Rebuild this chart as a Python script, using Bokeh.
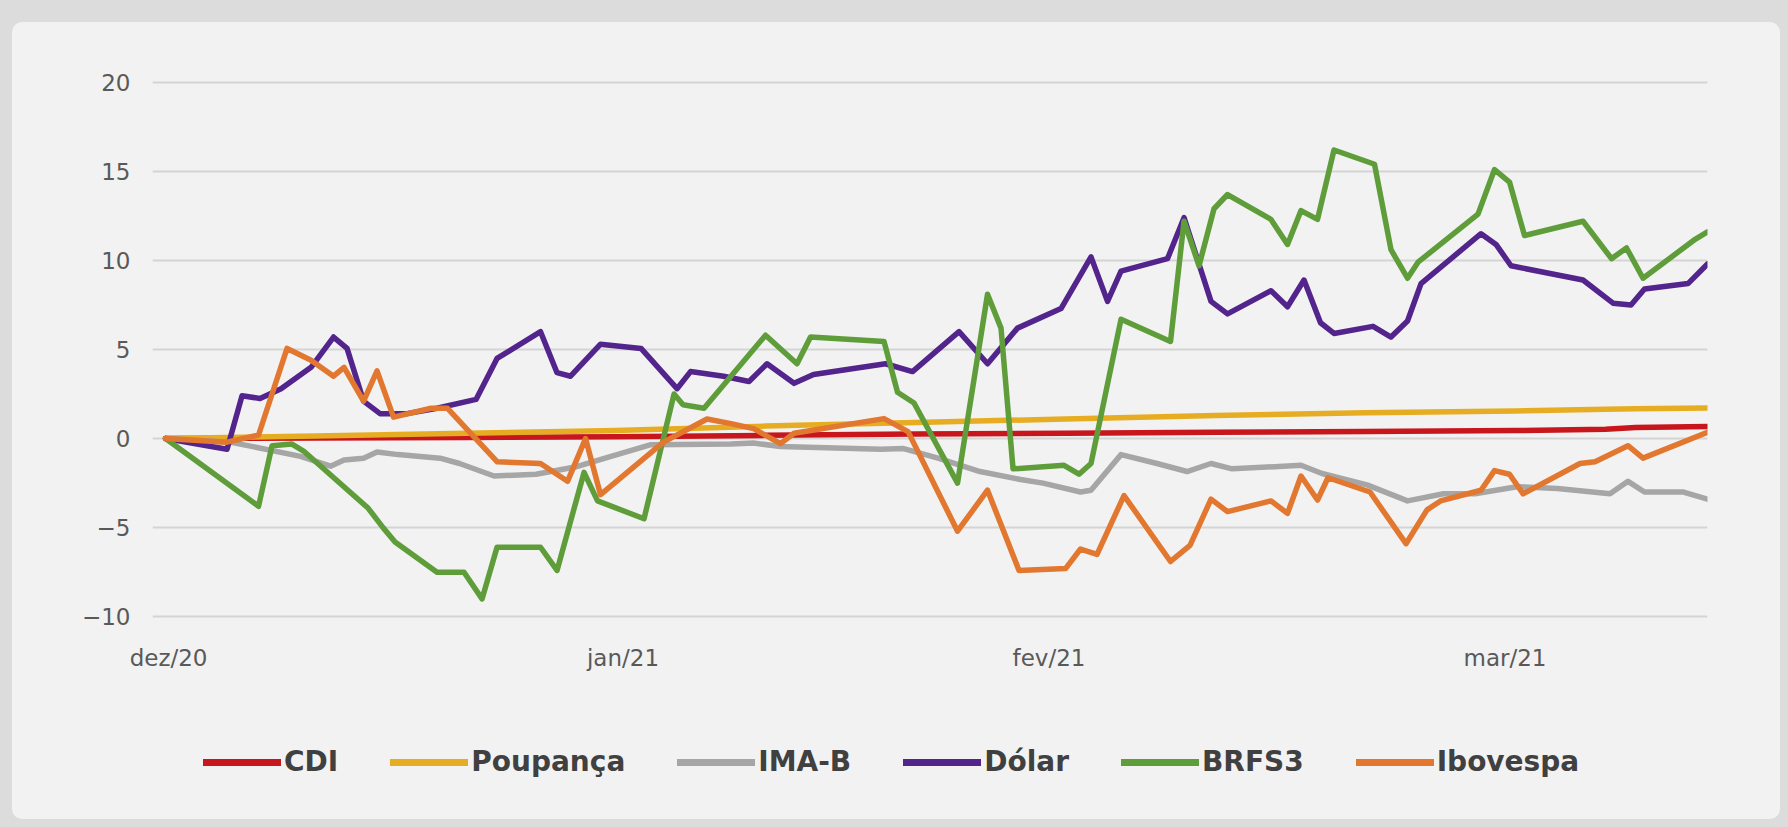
from bokeh.plotting import figure
from bokeh.layouts import column
from bokeh.models import Range1d, FixedTicker, Legend, LegendItem, GlobalInlineStyleSheet
from bokeh.embed import file_html
from bokeh.resources import INLINE

# ---------------- data (x = session index along the horizontal axis) ----------------
tick_pos = [0.2, 30.5, 58.9, 89.3]
tick_labels = ["dez/20", "jan/21", "fev/21", "mar/21"]

x_cdi = [0, 10, 20, 30, 40, 50, 60, 70, 80, 90, 96, 98, 102.8]
cdi = [0, 0.03, 0.06, 0.1, 0.18, 0.25, 0.3, 0.35, 0.4, 0.45, 0.52, 0.62, 0.68]

x_poup = [0, 10, 20, 30, 40, 50, 60, 70, 80, 90, 96, 98, 102.8]
poupanca = [0, 0.15, 0.3, 0.45, 0.7, 0.9, 1.1, 1.3, 1.45, 1.55, 1.65, 1.68, 1.72]

x_imab = [0, 4.3, 6.1, 9.0, 11.0, 11.9, 13.2, 14.1, 15.5, 18.3, 19.6, 21.9, 24.7, 27.3,
          29.7, 32.3, 37.7, 39.2, 41.0, 47.7, 49.2, 51.5, 54.3, 57.0, 58.5, 61.0, 61.7,
          63.7, 66.1, 68.1, 69.7, 71.1, 75.7, 77.1, 80.1, 82.8, 85.2, 87.3, 90.1, 92.8,
          96.3, 97.5, 98.6, 101.2, 102.8]
imab = [0, -0.2, -0.5, -1.0, -1.55, -1.2, -1.1, -0.75, -0.9, -1.1, -1.4, -2.1, -2.0, -1.6,
        -1.0, -0.35, -0.3, -0.25, -0.45, -0.6, -0.56, -1.1, -1.85, -2.3, -2.5, -3.0, -2.9,
        -0.9, -1.4, -1.85, -1.4, -1.7, -1.5, -1.96, -2.6, -3.5, -3.1, -3.1, -2.7, -2.8,
        -3.1, -2.4, -3.0, -3.0, -3.4]

x_dolar = [0, 4.1, 5.1, 6.3, 7.7, 9.7, 11.2, 12.1, 13.2, 14.3, 16.1, 18.1, 20.7, 22.1,
           25.0, 26.1, 27.0, 29.0, 31.7, 34.1, 35.0, 37.2, 38.9, 40.1, 41.9, 43.2, 48.0,
           49.8, 52.9, 54.8, 56.8, 59.7, 61.7, 62.8, 63.7, 66.8, 67.9, 69.7, 70.8, 73.7,
           74.8, 75.9, 77.0, 77.9, 80.5, 81.7, 82.8, 83.7, 87.7, 88.7, 89.7, 94.5, 96.5,
           97.7, 98.6, 101.5, 102.8]
dolar = [0, -0.6, 2.4, 2.25, 2.8, 4.0, 5.7, 5.06, 2.1, 1.4, 1.4, 1.7, 2.2, 4.5,
         6.0, 3.7, 3.5, 5.3, 5.06, 2.8, 3.76, 3.5, 3.2, 4.2, 3.1, 3.6, 4.2,
         3.76, 6.0, 4.2, 6.2, 7.3, 10.2, 7.7, 9.4, 10.1, 12.4, 7.7, 7.0, 8.3,
         7.4, 8.9, 6.5, 5.9, 6.3, 5.7, 6.6, 8.7, 11.5, 10.9, 9.7, 8.9, 7.6,
         7.5, 8.4, 8.7, 9.8]

x_brfs3 = [0, 6.2, 7.1, 8.4, 9.2, 13.5, 14.5, 15.3, 18.1, 19.9, 21.1, 22.1, 25.0, 26.1,
           27.9, 28.8, 31.9, 33.9, 34.5, 35.9, 40.0, 42.1, 43.0, 47.9, 48.8, 49.9, 52.8,
           54.8, 55.7, 56.5, 59.9, 60.9, 61.7, 63.7, 67.0, 67.9, 68.9, 69.9, 70.8, 73.7,
           74.8, 75.7, 76.8, 77.9, 80.6, 81.7, 82.8, 83.5, 87.5, 88.6, 89.6, 90.6, 94.5,
           96.4, 97.4, 98.5, 102.0, 102.8]
brfs3 = [0, -3.8, -0.4, -0.3, -0.7, -3.9, -5.0, -5.8, -7.5, -7.5, -9.0, -6.1, -6.1, -7.4,
         -1.9, -3.5, -4.5, 2.5, 1.9, 1.7, 5.8, 4.2, 5.7, 5.45, 2.6, 2.0, -2.5,
         8.1, 6.2, -1.7, -1.5, -2.0, -1.4, 6.7, 5.45, 12.2, 9.7, 12.9, 13.7, 12.3,
         10.9, 12.8, 12.3, 16.2, 15.4, 10.6, 9.0, 9.9, 12.6, 15.1, 14.4, 11.4, 12.2,
         10.1, 10.7, 9.0, 11.2, 11.6]

x_ibov = [0, 4.1, 6.2, 8.1, 9.7, 11.2, 11.9, 13.2, 14.1, 15.2, 17.7, 18.8, 22.1, 25.0,
          26.8, 28.0, 29.0, 33.2, 36.1, 37.7, 39.2, 41.0, 41.9, 47.9, 49.5, 52.8, 54.8,
          56.9, 60.0, 61.0, 62.1, 63.9, 67.0, 68.3, 69.7, 70.8, 73.7, 74.8, 75.7, 76.8,
          77.5, 80.3, 82.7, 84.1, 85.0, 87.7, 88.6, 89.6, 90.5, 94.3, 95.3, 96.3, 97.5,
          98.5, 102.8]
ibovespa = [0, -0.2, 0.2, 5.06, 4.4, 3.5, 4.0, 2.1, 3.8, 1.2, 1.7, 1.7, -1.3, -1.4,
            -2.4, 0.0, -3.15, -0.2, 1.1, 0.84, 0.56, -0.28, 0.3, 1.12, 0.39, -5.2, -2.9,
            -7.4, -7.3, -6.2, -6.5, -3.2, -6.9, -6.0, -3.4, -4.1, -3.5, -4.2, -2.1, -3.45,
            -2.2, -3.0, -5.9, -4.0, -3.5, -2.9, -1.8, -2.0, -3.1, -1.4, -1.3, -0.9, -0.4,
            -1.1, 0.35]

series = [
    ("CDI", x_cdi, cdi, "#c8161d"),
    ("Poupança", x_poup, poupanca, "#e6ad22"),
    ("IMA-B", x_imab, imab, "#a6a6a6"),
    ("Dólar", x_dolar, dolar, "#52248c"),
    ("BRFS3", x_brfs3, brfs3, "#5f9d3b"),
    ("Ibovespa", x_ibov, ibovespa, "#e2772f"),
]

BG = "#f2f2f2"
LW = 5.5

# ---------------- main chart ----------------
css = GlobalInlineStyleSheet(css="html, body { background: #dcdcdc; margin: 0; padding: 0; } body { padding: 22px 0 0 12px; }")

p = figure(width=1768, height=696, output_backend="svg", toolbar_location=None,
           x_range=Range1d(-0.87, 102.8), y_range=Range1d(-10.1, 20.1),
           min_border_left=140, min_border_right=73, min_border_top=58, min_border_bottom=100,
           background_fill_alpha=0, border_fill_alpha=0,
           outline_line_color=None, stylesheets=[css])

for name, xs, ys, col in series:
    p.line(xs, ys, line_color=col, line_width=LW, line_join="round", line_cap="round")

p.yaxis.ticker = FixedTicker(ticks=[-10, -5, 0, 5, 10, 15, 20])
p.xaxis.ticker = FixedTicker(ticks=tick_pos)
p.xaxis.major_label_overrides = {t: l for t, l in zip(tick_pos, tick_labels)}
for ax in (p.xaxis, p.yaxis):
    ax.axis_line_color = None
    ax.major_tick_line_color = None
    ax.minor_tick_line_color = None
    ax.major_tick_in = 0
    ax.major_tick_out = 0
    ax.major_label_text_font = "DejaVu Sans"
    ax.major_label_text_font_size = "23px"
    ax.major_label_text_color = "#595959"
p.yaxis.major_label_standoff = 22
p.xaxis.major_label_standoff = 26

p.xgrid.grid_line_color = None
p.ygrid.grid_line_color = "#d4d4d4"
p.ygrid.grid_line_width = 2

# ---------------- legend strip (same series, drawn outside its view) ----------------
lg = figure(width=1768, height=88, output_backend="svg", toolbar_location=None,
            x_range=Range1d(1000, 1001), y_range=Range1d(1000, 1001),
            x_axis_location=None, y_axis_location=None,
            min_border=0, background_fill_alpha=0, border_fill_alpha=0,
            outline_line_color=None)
lg.grid.visible = False
items = []
for name, xs, ys, col in series:
    r = lg.line(xs, ys, line_color=col, line_width=7, line_cap="round")
    items.append(LegendItem(label=name, renderers=[r]))

legend = Legend(items=items, orientation="horizontal", location=(51, 28),
                glyph_width=78, glyph_height=30, label_standoff=3, spacing=52,
                padding=0, margin=0, background_fill_alpha=0, border_line_alpha=0,
                label_text_font="DejaVu Sans", label_text_font_style="bold",
                label_text_font_size="28px", label_text_color="#404040")
lg.add_layout(legend)

layout = column(p, lg, spacing=0,
                styles={"background-color": BG, "padding-bottom": "13px",
                        "border-radius": "10px"})
open("out.html", "w").write(file_html(layout, INLINE))
